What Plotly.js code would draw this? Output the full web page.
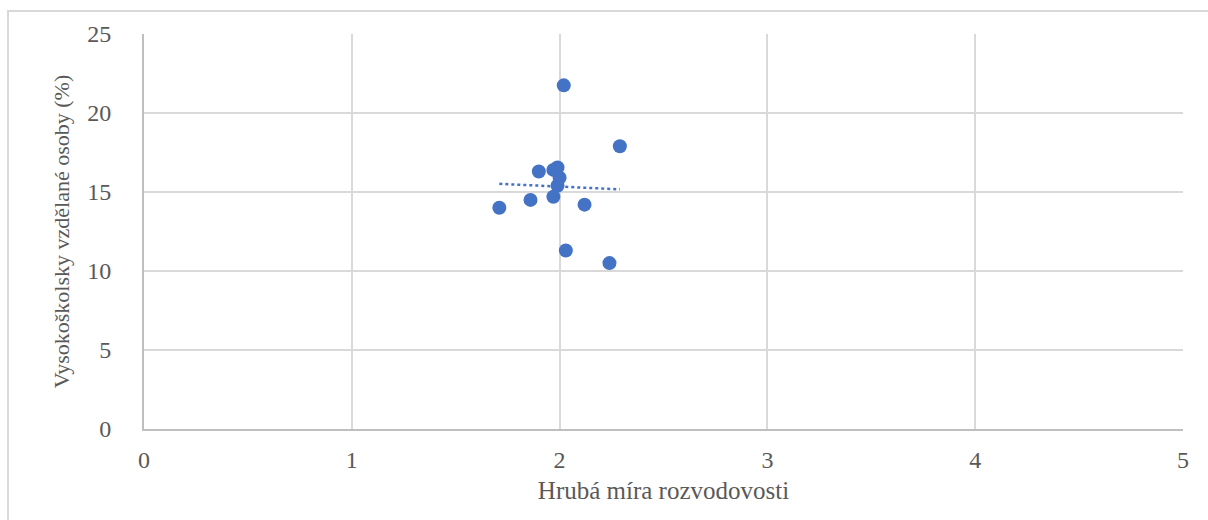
<!DOCTYPE html>
<html>
<head>
<meta charset="utf-8">
<script src="https://cdn.plot.ly/plotly-3.0.1.min.js"></script>
<style>
html,body{margin:0;padding:0;background:#fff;}
#frame{position:absolute;left:7px;top:10px;width:1201px;height:510px;border-top:2px solid #d9d9d9;border-left:2px solid #d9d9d9;box-sizing:border-box;pointer-events:none;}
#chart{position:absolute;left:0;top:0;width:1208px;height:520px;}
</style>
</head>
<body>
<div id="chart"></div>
<div id="frame"></div>
<script>
// Hrubá míra rozvodovosti (x) vs. vysokoškolsky vzdělané osoby % (y)
const divorceRate = [2.02, 2.29, 1.90, 1.97, 1.99, 2.00, 1.99, 1.97, 1.86, 1.71, 2.12, 2.03, 2.24];
const graduates   = [21.75, 17.9, 16.3, 16.4, 16.55, 15.9, 15.4, 14.7, 14.5, 14.0, 14.2, 11.3, 10.5];
const xTicks = [0, 1, 2, 3, 4, 5];
const yTicks = [0, 5, 10, 15, 20, 25];

// linear least-squares trendline
const n = divorceRate.length;
const mx = divorceRate.reduce((a,b)=>a+b,0)/n;
const my = graduates.reduce((a,b)=>a+b,0)/n;
let sxy = 0, sxx = 0;
for (let i=0;i<n;i++){ sxy += (divorceRate[i]-mx)*(graduates[i]-my); sxx += (divorceRate[i]-mx)**2; }
const slope = sxy/sxx, icpt = my - slope*mx;
const xmin = Math.min(...divorceRate), xmax = Math.max(...divorceRate);
const trendX = [xmin, xmax];
const trendY = trendX.map(x => icpt + slope*x);

const font = "Liberation Serif";
const data = [
  {x: trendX, y: trendY, mode: 'lines', type: 'scatter',
   line: {color: '#4472C4', width: 2.5, dash: 'dot'}, hoverinfo: 'skip'},
  {x: divorceRate, y: graduates, mode: 'markers', type: 'scatter',
   marker: {color: '#4472C4', size: 14}}
];
const layout = {
  width: 1208, height: 520,
  margin: {l: 144, r: 25, t: 34, b: 91},
  showlegend: false,
  paper_bgcolor: '#fff', plot_bgcolor: '#fff',
  font: {family: font, color: '#595959', size: 24},
  xaxis: {
    range: [0, 5], tickvals: xTicks, ticktext: xTicks.map(String),
    showgrid: true, gridcolor: '#d9d9d9', gridwidth: 2,
    showline: true, linecolor: '#bfbfbf', linewidth: 2,
    zeroline: false, ticks: '', ticklabelstandoff: 8,
    tickfont: {family: font, size: 24, color: '#595959'},
    title: {text: 'Hrubá míra rozvodovosti', font: {family: font, size: 25, color: '#595959'}, standoff: 10}
  },
  yaxis: {
    range: [0, 25], tickvals: yTicks, ticktext: yTicks.map(String),
    showgrid: true, gridcolor: '#d9d9d9', gridwidth: 2,
    showline: true, linecolor: '#bfbfbf', linewidth: 2,
    zeroline: false, ticks: '', ticklabelstandoff: 26,
    tickfont: {family: font, size: 24, color: '#595959'},
    title: {text: 'Vysokoškolsky vzdělané osoby (%)', font: {family: font, size: 22, color: '#595959'}, standoff: 12}
  }
};
Plotly.newPlot('chart', data, layout, {displayModeBar: false, staticPlot: true});
</script>
</body>
</html>
